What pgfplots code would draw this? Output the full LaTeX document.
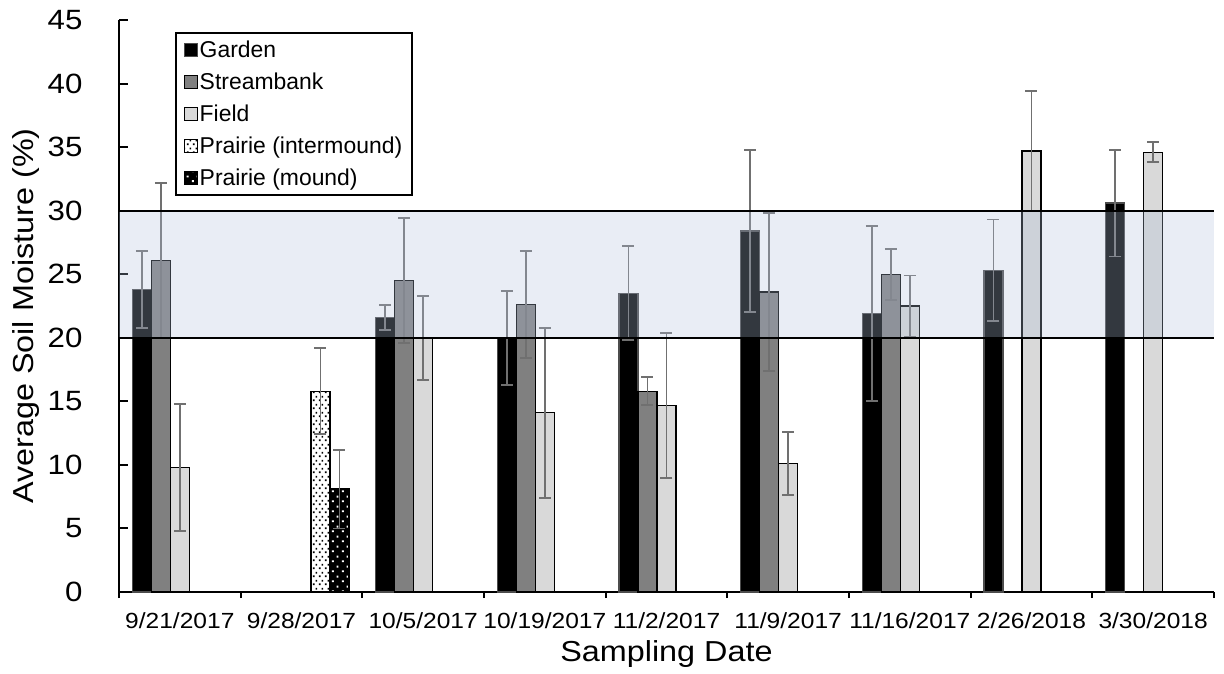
\documentclass[border=0pt]{standalone}
\usepackage{fontspec}
\setmainfont{Liberation Sans}[FakeStretch=1.12]
\newfontfamily\legfont{Liberation Sans}
\usepackage{pgfplots}
\pgfplotsset{compat=1.18}
\usetikzlibrary{patterns.meta}
\definecolor{stream}{RGB}{128,128,128}
\definecolor{field}{RGB}{217,217,217}
\definecolor{errc}{RGB}{112,112,112}
\definecolor{band}{RGB}{179,193,220}
\tikzdeclarepattern{name=smalldots, type=uncolored,
  bounding box={(0,0) and (6bp,8bp)}, tile size={(6bp,8bp)},
  code={\fill (1bp,1bp) rectangle (2.8bp,2.8bp); \fill (4bp,5bp) rectangle (5.8bp,6.8bp);}}
\tikzdeclarepattern{name=bigdots, type=uncolored,
  bounding box={(0,0) and (10bp,10bp)}, tile size={(10bp,10bp)},
  code={\fill (2bp,2bp) rectangle (4bp,4bp); \fill (7bp,7bp) rectangle (9bp,9bp);}}
\begin{document}
\begin{tikzpicture}
\begin{axis}[
  at={(0,0)}, anchor=south west,
  scale only axis, width=1095bp, height=572bp,
  ymin=0, ymax=45, ytick={0,5,...,45},
  xmin=-0.5, xmax=8.5,
  xtick={0,...,8},
  xticklabels={9/21/2017,9/28/2017,10/5/2017,10/19/2017,11/2/2017,11/9/2017,11/16/2017,2/26/2018,3/30/2018},
  minor xtick={-0.5,0.5,...,8.5},
  axis x line*=bottom, axis y line*=left,
  axis line style={line width=2bp, -},
  xtick align=outside, ytick align=inside,
  major x tick style={draw=none},
  minor x tick style={line width=2bp, black},
  minor tick length=6bp,
  major y tick style={line width=2bp, black},
  major tick length=9bp,
  /pgf/number format/assume math mode=true,
  yticklabel style={font=\fontsize{28}{32}\selectfont, anchor=east, xshift=-33bp},
  xticklabel style={font=\fontsize{22}{26}\selectfont, anchor=base, yshift=-27bp},
  xlabel={Sampling Date}, ylabel={Average Soil Moisture (\%)},
  xlabel style={font=\fontsize{29}{33}\selectfont, at={(axis description cs:0.5,0)}, anchor=base, yshift=-69bp},
  ylabel style={font=\fontsize{29}{33}\selectfont, at={(axis description cs:-0.085,0.4825)}, anchor=center},
  ybar, bar width=19bp,
  error bars/y dir=both, error bars/y explicit,
  error bars/error bar style={color=errc, line width=1.8bp},
  error bars/error mark options={rotate=90, mark size=6bp, line width=1.8bp, color=errc},
  legend style={at={(axis description cs:0.0511,0.979)}, anchor=north west,
    draw=black, line width=2bp, font=\legfont\fontsize{23}{26}\selectfont,
    row sep=10bp, inner xsep=8bp, inner ysep=6bp},
  legend cell align=left,
  legend image code/.code={\draw[#1, line width=0.8bp] (0bp,-6bp) rectangle (13bp,7bp);},
]
\addplot[bar shift=-38bp, fill=black, draw=black!70, line width=1.2bp]
  coordinates {(0,23.8)+-(0,3.0) (2,21.6)+-(0,1.0) (3,20.0)+-(0,3.7) (4,23.5)+-(0,3.7)
  (5,28.4)+-(0,6.4) (6,21.9)+-(0,6.9) (7,25.3)+-(0,4.0) (8,30.6)+-(0,4.2)};
\addplot[bar shift=-19bp, fill=stream, draw=black, line width=1.2bp]
  coordinates {(0,26.1)+-(0,6.1) (2,24.5)+-(0,4.9) (3,22.6)+-(0,4.2) (4,15.8)+-(0,1.1)
  (5,23.6)+-(0,6.2) (6,25.0)+-(0,2.0)};
\addplot[bar shift=0bp, fill=field, draw=black, line width=1.2bp]
  coordinates {(0,9.8)+-(0,5.0) (2,20.0)+-(0,3.3) (3,14.1)+-(0,6.7) (4,14.7)+-(0,5.7)
  (5,10.1)+-(0,2.5) (6,22.5)+-(0,2.4) (7,34.7)+-(0,4.7) (8,34.6)+-(0,0.8)};
\addplot[bar shift=19bp, fill=white, draw=black, line width=1.2bp, postaction={pattern=smalldots, pattern color=black}]
  coordinates {(1,15.8)+-(0,3.4)};
\addplot[bar shift=38bp, fill=black, draw=black, line width=1.2bp, postaction={pattern=bigdots, pattern color=white}]
  coordinates {(1,8.1)+-(0,3.1)};
\legend{Garden,Streambank,Field,Prairie (intermound),Prairie (mound)}
\fill[band, opacity=0.29] (axis cs:-0.5,20) rectangle (axis cs:8.5,30);
\draw[line width=2.2bp] (axis cs:-0.5,20) -- (axis cs:8.5,20);
\draw[line width=2.2bp] (axis cs:-0.5,30) -- (axis cs:8.5,30);
\end{axis}
\pgfresetboundingbox
\path[use as bounding box] (-119bp,-82bp) rectangle (1105bp,592bp);
\end{tikzpicture}
\end{document}
